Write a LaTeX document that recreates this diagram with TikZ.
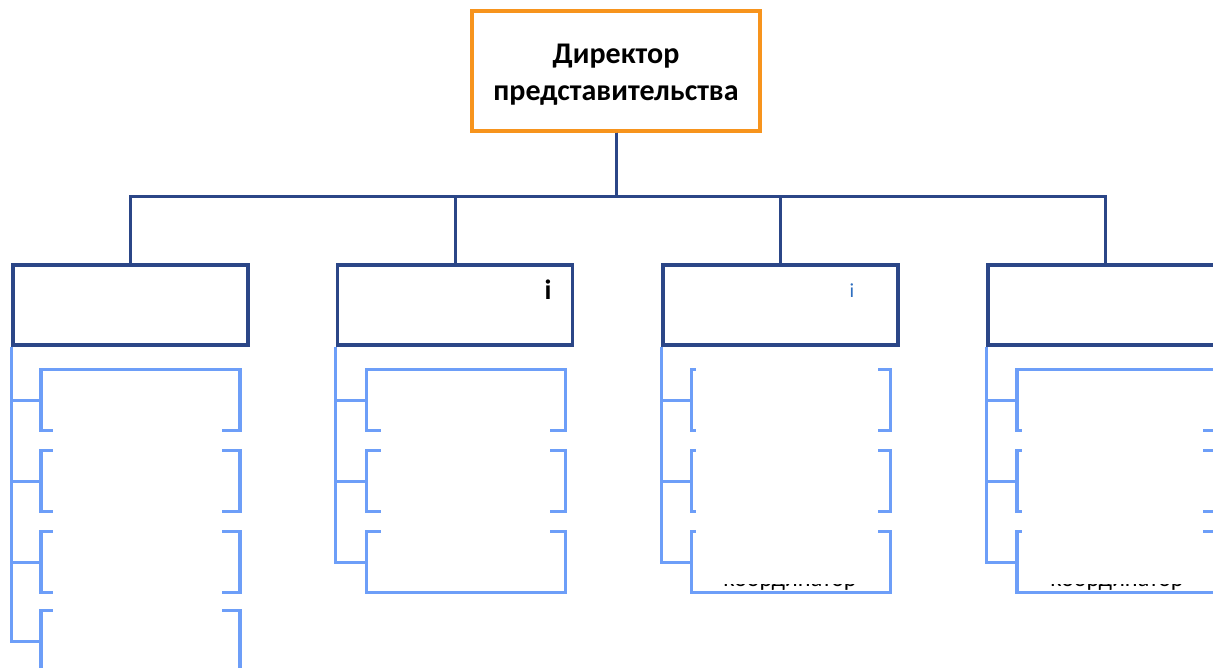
\documentclass[tikz,border=0pt]{standalone}
\usepackage{fontspec}
\setmainfont{Carlito}
\definecolor{boss}{HTML}{F7941D}
\definecolor{unit}{HTML}{2B4687}
\definecolor{staff}{HTML}{6D9EF8}
\definecolor{mark}{HTML}{2F6FC0}
\tikzset{
  topbox/.style={draw=boss, line width=3.5pt, minimum width=288pt, minimum height=120pt, inner sep=0pt, align=center, font=\fontsize{30}{37}\selectfont\bfseries},
  unitbox/.style={draw=unit, line width=3.5pt, minimum width=235pt, minimum height=80pt, inner sep=0pt},
  staffbox/.style={draw=staff, line width=3.5pt, minimum width=199pt, minimum height=61pt, inner sep=0pt},
  link/.style={draw=unit, line width=3pt},
  stafflink/.style={draw=staff, line width=3pt},
  patch/.style={fill=white},
  scrap/.style={anchor=base, inner sep=0pt, font=\fontsize{24}{28}\selectfont}
}
\begin{document}
\begin{tikzpicture}[x=1pt,y=-1pt]
\useasboundingbox (0,0) rectangle (1213,668);
\node[topbox, text height=0pt] (dir) at (616,71) {};
\node[font=\fontsize{30}{37}\selectfont\bfseries, align=center, inner sep=0pt] (title) at (616,75) {Директор\\представительства};

\foreach \i/\x in {1/130.5,2/455,3/780.5,4/1105.5}
  \node[unitbox] (u\i) at (\x,305) {};

\foreach \i/\x in {1/140.5,2/466,3/791,4/1116.5}
  \foreach \j/\y in {1/400,2/481,3/562}
    \node[staffbox] (s\i\j) at (\x,\y) {};
\node[staffbox] (s14) at (140.5,641) {};

% covered labels
\fill[patch] (53,372) rectangle (222,680);
\fill[patch] (381,373) rectangle (550,589);
\fill[patch] (696,349) rectangle (878,584);
\fill[patch] (1022,371) rectangle (1203,584);

\begin{scope}
  \clip (696,584) rectangle (878,597);
  \node[scrap] (tail3) at (790,586) {координатор};
\end{scope}
\begin{scope}
  \clip (1022,584) rectangle (1203,597);
  \node[scrap] (tail4) at (1117,586) {координатор};
\end{scope}
\node[scrap, font=\fontsize{28}{34}\selectfont\bfseries] (m2) at (548,300) {i};
\node[scrap, text=mark, font=\fontsize{20}{24}\selectfont] (m3) at (852,298) {i};

\foreach \i in {1,...,4}
  \draw[link] (dir.south) -- ++(0,64) -| (u\i.north);

\foreach \i/\n in {1/4,2/3,3/3,4/3}{
  \draw[stafflink] (u\i.south west) |- (s\i\n.west);
  \foreach \j in {1,...,\n}
    \draw[stafflink] (u\i.south west |- s\i\j.west) -- (s\i\j.west);
}
\end{tikzpicture}
\end{document}
